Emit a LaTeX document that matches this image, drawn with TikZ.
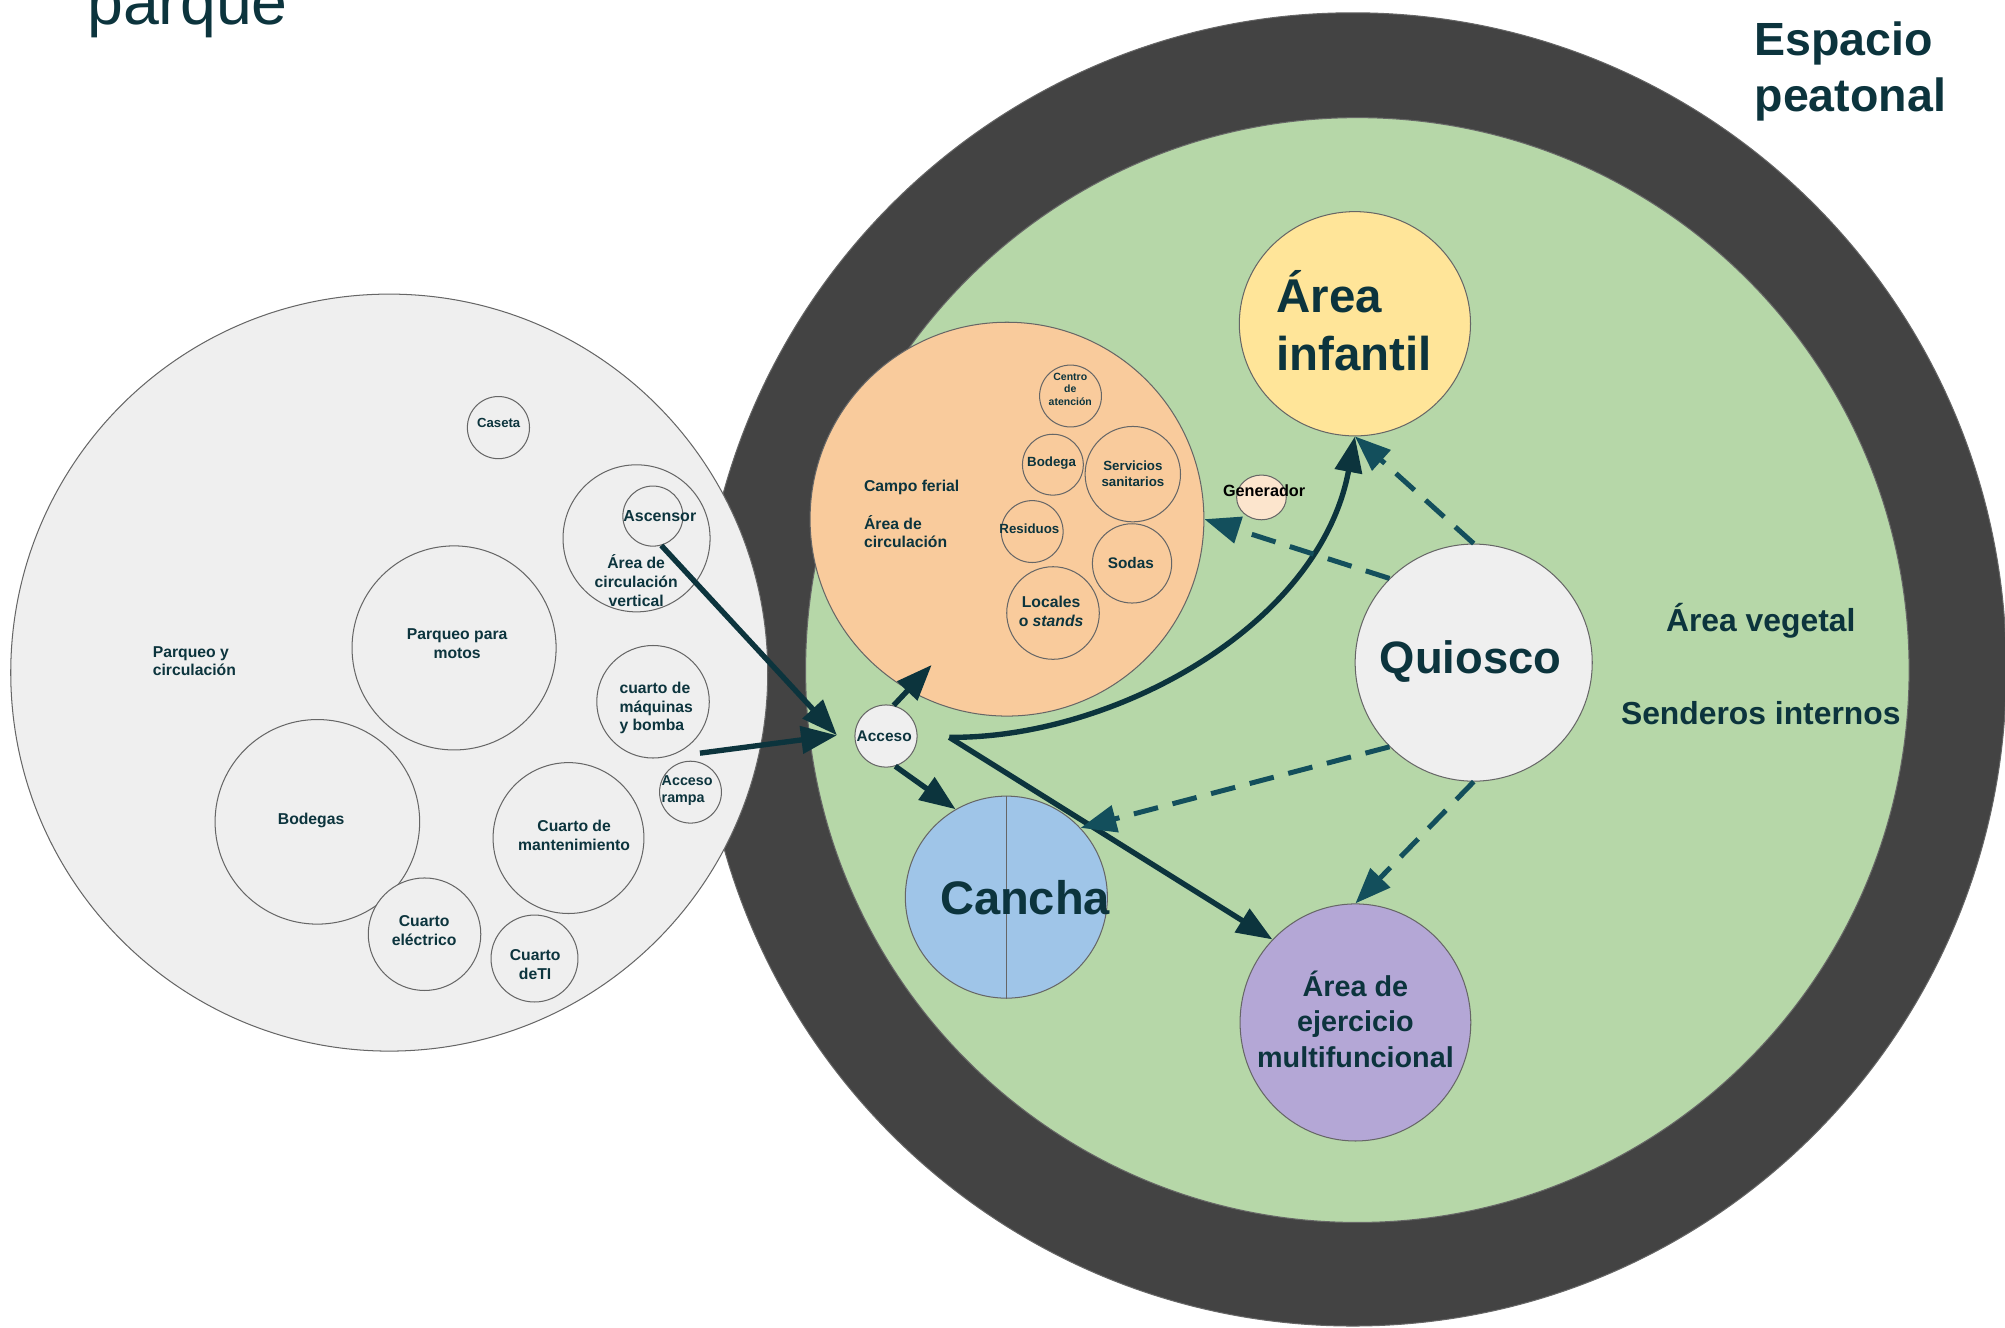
\documentclass[tikz,border=0pt]{standalone}
\usepackage{fontspec}
\setmainfont{Liberation Sans}
\usetikzlibrary{arrows.meta,shapes.geometric}
\definecolor{ink}{HTML}{0C343D}
\definecolor{tealdash}{HTML}{134F5C}
\definecolor{ringgray}{HTML}{434343}
\definecolor{lawn}{HTML}{B6D7A8}
\definecolor{fair}{HTML}{F9CB9C}
\definecolor{paper}{HTML}{EFEFEF}
\definecolor{kids}{HTML}{FFE599}
\definecolor{court}{HTML}{9FC5E8}
\definecolor{gym}{HTML}{B4A7D6}
\definecolor{genfill}{HTML}{FCE5CD}
\definecolor{edge}{HTML}{666666}
\newcommand{\fsz}[2]{\fontsize{#1}{#2}\selectfont}

\begin{document}
\begin{tikzpicture}[x=1pt, y=-1pt]
    \tikzset{room/.style={circle, draw=edge, line width=0.8pt, inner sep=0pt, minimum size=#1},
             zone/.style 2 args={ellipse, draw=edge, line width=0.8pt, inner sep=0pt,
                                 minimum width=#1, minimum height=#2},
             lab/.style 2 args={text=ink, align=center, inner sep=0pt, font=\bfseries\fsz{#1}{#2}},
             flow/.style={draw=ink, line width=4.2pt, -{Triangle[length=28pt, width=21pt]}},
             rel/.style={draw=tealdash, line width=3.9pt, dash pattern=on 19.5pt off 11.7pt,
                         -{Triangle[length=28pt, width=21pt]}}}
    \useasboundingbox (0,0) rectangle (1568,1038);
    % pedestrian ring and green area
    \node[zone={1022}{1027}, fill=ringgray] (ring) at (1058,523.5) {};
    \node[zone={863}{864}, fill=lawn] (lawn) at (1061.5,524) {};
    % parking
    \node[room=592, fill=paper] (park) at (304.4,526) {};
    \foreach \n/\x/\y/\d in {caseta/389.8/334.4/48.6, vert/497.8/421/115, motos/355.1/506.7/159.6,
                            bomba/510.7/548.8/88, rampa/540/619.5/48.4, bodegas/248.2/642.7/160,
                            mant/444.6/655.4/118, elec/332/730.6/88, ti/418/749.6/68, ascensor/510.6/403.6/47} {
      \node[room=\d, fill=paper] (\n) at (\x,\y) {};
    }
    % park zones
    \node[room=308, fill=fair] (ferial) at (787.5,406) {};
    \foreach \n/\x/\y/\d in {centro/837.2/309.7/48.4, bodega/823.4/363.4/47.6, sanit/885.9/370.8/74.6,
                            residuos/807.2/415.7/48.4, sodas/885.3/440.6/62, locales/823.5/479.4/72.4} {
      \node[room=\d, fill=fair] (\n) at (\x,\y) {};
    }
    \node[zone={38.8}{35}, fill=genfill] (generador) at (986.5,389) {};
    \node[zone={180.8}{175.4}, fill=kids] (infantil) at (1059.6,253.2) {};
    \node[room=185.4, fill=paper] (quiosco) at (1152.5,518.2) {};
    \node[room=48.6, fill=paper] (acceso) at (692.9,575.6) {};
    \node[room=158, fill=court] (cancha) at (787,701.6) {};
    \draw[edge, line width=0.8pt] (cancha.north) -- (cancha.south);
    \node[zone={180.4}{185.4}, fill=gym] (ejercicio) at (1060,799.6) {};

    % labels
    \node[text=ink, font=\fsz{50.4}{60}, anchor=base west, inner sep=0pt] (titulo) at (68,19.5) {parque};
    \node[lab={36.4}{44.3}, align=left] (tespacio) at (1447,56) {Espacio\\peatonal};
    \node[lab={12.3}{14.7}, align=left] (tpark) at (152,517) {Parqueo y\\circulación};
    \node[lab={10.3}{12}] (tcaseta) at (390,330.5) {Caseta};
    \node[lab={12.5}{14.7}] (tascensor) at (516,403.5) {Ascensor};
    \node[lab={12.3}{14.7}] (tvert) at (497.5,454) {Área de\\circulación\\vertical};
    \node[lab={12.3}{14.7}] (tmotos) at (357.5,503.3) {Parqueo para\\motos};
    \node[lab={12.3}{14.7}, align=left] (tbomba) at (513.2,553.7) {cuarto de\\máquinas\\y bomba};
    \node[lab={11.2}{13.3}, align=left] (trampa) at (537.4,618.5) {Acceso\\rampa};
    \node[lab={12.3}{14.7}] (tbodegas) at (243.3,642) {Bodegas};
    \node[lab={12.3}{14.7}] (tmant) at (449,653.5) {Cuarto de\\mantenimiento};
    \node[lab={12.3}{14.7}] (telec) at (331.7,728) {Cuarto\\eléctrico};
    \node[lab={12.3}{14.7}] (tti) at (418.5,754.5) {Cuarto\\deTI};
    \node[lab={12.3}{14.3}, align=left] (tferial) at (713,402) {Campo ferial\\[15.7pt]Área de\\circulación};
    \node[lab={8.2}{9.8}] (tcentro) at (837,304.5) {Centro\\de\\atención};
    \node[lab={10.4}{12.8}] (tbodega) at (822.4,362.4) {Bodega};
    \node[lab={10.4}{12.8}] (tsanit) at (886,370.7) {Servicios\\sanitarios};
    \node[lab={10.4}{12.8}] (tresid) at (805,413.5) {Residuos};
    \node[lab={12}{14}] (tsodas) at (884.4,440.5) {Sodas};
    \node[lab={12.3}{14.9}] (tlocales) at (822,478) {Locales\\o \textit{stands}};
    \node[lab={12.7}{15}, text=black] (tgen) at (988.6,384) {Generador};
    \node[lab={37.1}{45.1}, align=left] (tinfantil) at (1059,251) {Área\\infantil};
    \node[lab={35.5}{42}] (tquiosco) at (1150,517) {Quiosco};
    \node[lab={36.8}{44}] (tcancha) at (801.6,702) {Cancha};
    \node[lab={22.5}{27.6}] (tejercicio) at (1060,797) {Área de\\ejercicio\\multifuncional};
    \node[lab={12.1}{14}] (tacceso) at (691.5,575.6) {Acceso};
    \node[lab={24.9}{29.9}] (tveg) at (1377,519.3) {Área vegetal\\[42.3pt]Senderos internos};

    % circulation
    \coordinate (accin) at (654.5,575);
    \coordinate (bombaout) at (547.4,589);
    \coordinate (ferialin) at (728.6,520);
    \coordinate (split) at (742.4,576.6);
    \draw[flow] (ascensor.-74) -- (accin);
    \draw[flow] (bombaout) -- (accin);
    \draw[flow] (acceso.76) -- (ferialin);
    \draw[flow] (acceso.-73) -- (cancha.120);
    \draw[flow] (split) .. controls (870,578) and (1032,490) .. (infantil.south);
    \draw[flow] (split) -- (ejercicio.135);
    % kiosk links
    \draw[rel] (quiosco.north) -- (infantil.south);
    \draw[rel] (quiosco.135) -- (ferial.east);
    \draw[rel] (quiosco.225) -- (cancha.43);
    \draw[rel] (quiosco.south) -- (ejercicio.north);
  \end{tikzpicture}
\end{document}
